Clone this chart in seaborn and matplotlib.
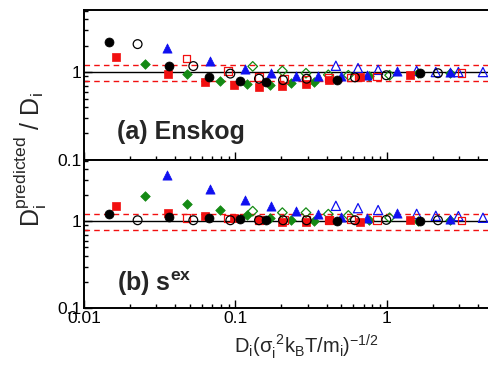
import numpy as np
import pandas as pd
import matplotlib
matplotlib.use("Agg")
import matplotlib.pyplot as plt
from matplotlib.ticker import FixedLocator, FixedFormatter, NullFormatter, LogLocator
import seaborn as sns

# ---------------- data ----------------
# black filled circles
bf_x = [0.0146, 0.0366, 0.067, 0.107, 0.159, 0.47, 1.65]
bf_a = [2.19, 1.18, 0.89, 0.80, 0.77, 0.81, 0.97]
bf_b = [1.22, 1.11, 1.08, 1.06, 1.03, 1.02, 1.02]
# black open circles
bo_x = [0.0226, 0.0527, 0.0925, 0.143, 0.206, 0.295, 0.615, 0.99, 2.17]
bo_a = [2.08, 1.17, 0.96, 0.84, 0.81, 0.84, 0.87, 0.92, 0.97]
bo_b = [1.03, 1.03, 1.03, 1.03, 1.03, 1.03, 1.03, 1.04, 1.03]
# red filled squares
rf_x = [0.0164, 0.036, 0.0626, 0.0973, 0.144, 0.204, 0.292, 0.416, 0.664, 1.42]
rf_a = [1.47, 0.96, 0.77, 0.71, 0.68, 0.69, 0.73, 0.81, 0.87, 0.93]
rf_b = [1.49, 1.26, 1.15, 1.08, 1.03, 0.99, 0.98, 1.03, 0.99, 1.03]
# red open squares
ro_x = [0.0476, 0.0892, 0.143, 0.210, 0.295, 0.416, 0.58, 0.86, 3.1]
ro_a = [1.42, 1.03, 0.88, 0.83, 0.81, 0.85, 0.87, 0.89, 0.97]
ro_b = [1.09, 1.08, 1.03, 1.03, 1.05, 1.04, 1.05, 1.04, 1.02]
# green filled diamonds
gf_x = [0.0254, 0.0476, 0.0787, 0.119, 0.168, 0.232, 0.328, 0.764, 1.61, 2.59]
gf_a = [1.23, 0.95, 0.80, 0.74, 0.72, 0.75, 0.78, 0.90, 0.97, 0.97]
gf_b = [1.97, 1.58, 1.34, 1.18, 1.10, 1.05, 1.00, 1.04, 1.01, 1.03]
# green open diamonds
go_x = [0.130, 0.204, 0.292, 0.41, 0.556, 1.04]
go_a = [1.16, 1.03, 0.97, 0.93, 0.92, 0.92]
go_b = [1.31, 1.26, 1.26, 1.21, 1.17, 1.10]
# blue filled triangles
tf_x = [0.0355, 0.0682, 0.115, 0.172, 0.25, 0.352, 0.494, 0.735, 1.17, 2.59]
tf_a = [1.86, 1.32, 1.07, 0.97, 0.91, 0.90, 0.90, 0.92, 1.03, 1.00]
tf_b = [3.43, 2.36, 1.77, 1.49, 1.32, 1.21, 1.13, 1.08, 1.24, 1.06]
# blue open triangles
to_x = [0.46, 0.644, 0.874, 1.57, 2.1, 2.96, 4.3]
to_a = [1.18, 1.11, 1.06, 1.03, 1.00, 1.00, 1.00]
to_b = [1.51, 1.42, 1.35, 1.22, 1.16, 1.15, 1.10]

x_ticks = [0.01, 0.1, 1]
x_ticklabels = ["0.01", "0.1", "1"]
y_ticks = [0.1, 1]
y_ticklabels = ["0.1", "1"]
band = [0.8, 1.2]
panel_labels = ["(a) Enskog", r"(b) s$^{\mathbf{ex}}$"]

# ---------------- style ----------------
sns.set_style("ticks")
plt.rcParams["font.family"] = ["Liberation Sans", "DejaVu Sans"]
plt.rcParams["mathtext.fontset"] = "custom"
plt.rcParams["mathtext.rm"] = "Liberation Sans"
plt.rcParams["mathtext.it"] = "Liberation Sans"
plt.rcParams["mathtext.bf"] = "Liberation Sans:bold"
plt.rcParams["mathtext.sf"] = "Liberation Sans"

GREEN = "#148a14"
RED = "#f21010"
BLUE = "#1010f0"

series = [
    # x, y_a, y_b, marker, color, filled, size
    (gf_x, gf_a, gf_b, "D", GREEN, True, 24),
    (go_x, go_a, go_b, "D", GREEN, False, 24),
    (to_x, to_a, to_b, "^", BLUE, False, 44),
    (tf_x, tf_a, tf_b, "^", BLUE, True, 44),
    (ro_x, ro_a, ro_b, "s", RED, False, 30),
    (rf_x, rf_a, rf_b, "s", RED, True, 30),
    (bo_x, bo_a, bo_b, "o", "black", False, 40),
    (bf_x, bf_a, bf_b, "o", "black", True, 42),
]

fig = plt.figure(figsize=(4.88, 3.66), dpi=100)
ax1 = fig.add_axes([0.172, 0.563, 0.838, 0.410])
ax2 = fig.add_axes([0.172, 0.158, 0.838, 0.405])

for k, ax in enumerate([ax1, ax2]):
    ax.set_xscale("log")
    ax.set_yscale("log")
    ax.axhline(1.0, color="black", lw=1.0, zorder=1)
    for b in band:
        ax.axhline(b, color=RED, lw=1.0, ls=(0, (4, 3)), zorder=1)
    for xs, ya, yb, m, c, filled, s in series:
        ys = ya if k == 0 else yb
        df = pd.DataFrame({"x": xs, "y": ys})
        if filled:
            sns.scatterplot(data=df, x="x", y="y", ax=ax, marker=m, s=s,
                            color=c, edgecolor=c, linewidth=0.5, zorder=3)
        else:
            sns.scatterplot(data=df, x="x", y="y", ax=ax, marker=m, s=s,
                            color=c, facecolor="none", edgecolor=c,
                            linewidth=0.9, zorder=3)
    ax.set_xlim(0.01, 5.0)
    ax.set_ylim(0.1, 5.1)
    ax.set_xlabel("")
    ax.set_ylabel("")
    ax.xaxis.set_major_locator(FixedLocator(x_ticks))
    ax.xaxis.set_minor_locator(LogLocator(base=10, subs=np.arange(2, 10)))
    ax.xaxis.set_minor_formatter(NullFormatter())
    ax.yaxis.set_major_locator(FixedLocator(y_ticks))
    ax.yaxis.set_major_formatter(FixedFormatter(y_ticklabels))
    ax.yaxis.set_minor_locator(LogLocator(base=10, subs=np.arange(2, 10)))
    ax.yaxis.set_minor_formatter(NullFormatter())
    ax.tick_params(which="both", direction="in", top=False, right=False,
                   labelsize=12.5, pad=2, width=1.0, colors="black")
    ax.tick_params(which="major", length=6)
    ax.tick_params(which="minor", length=3)
    for sp in ax.spines.values():
        sp.set_linewidth(1.4)
        sp.set_color("black")
    ax.spines["right"].set_visible(False)
    ax.text(0.08, 0.14 if k == 0 else 0.115, panel_labels[k],
            transform=ax.transAxes, fontsize=18, fontweight="bold",
            ha="left", va="baseline")

ax1.xaxis.set_major_formatter(NullFormatter())
ax2.xaxis.set_major_formatter(FixedFormatter(x_ticklabels))

fig.text(0.063, 0.563, r"$\mathrm{D_i^{predicted}\ /\ D_i}$", rotation=90,
         ha="center", va="center", fontsize=18)
fig.text(0.627, 0.035, r"$\mathrm{D_i(\sigma_i^{\ 2}k_BT/m_i)^{-1/2}}$",
         ha="center", va="baseline", fontsize=14.5)

fig.savefig("out.png", dpi=100)
